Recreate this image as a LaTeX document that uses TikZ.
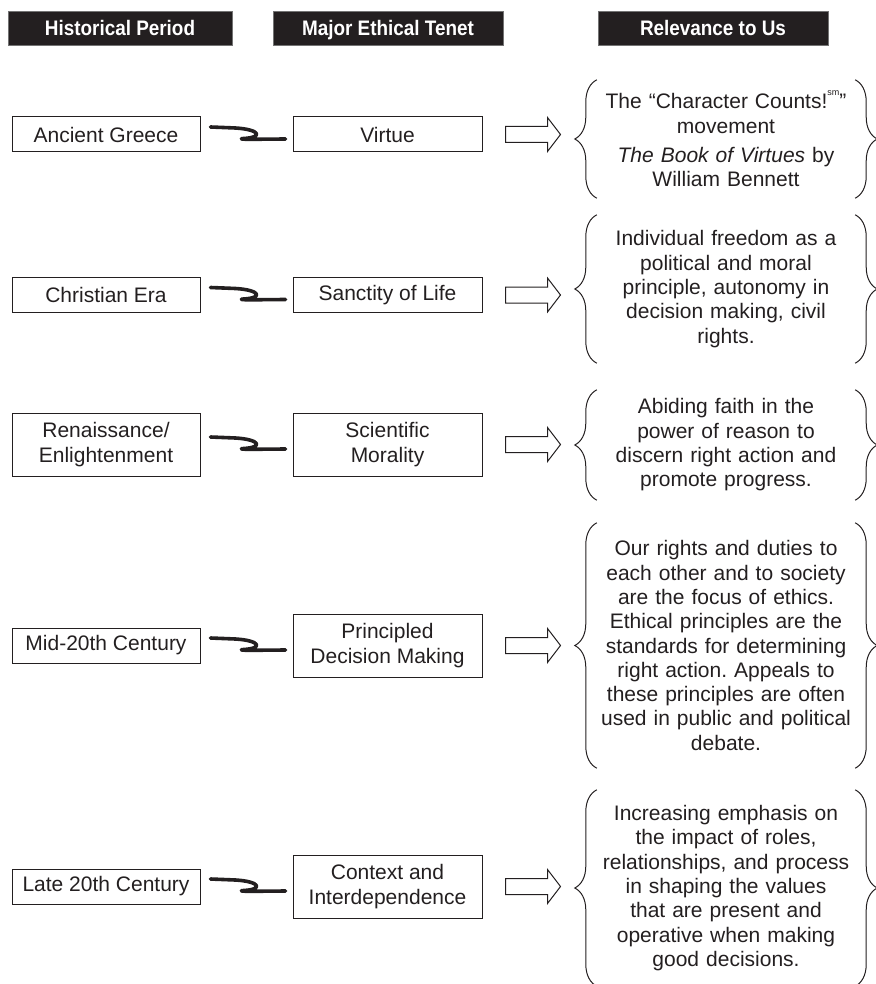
\documentclass[tikz,border=0pt]{standalone}
\usepackage{fontspec}
\setmainfont{Liberation Sans}
\usetikzlibrary{calc,decorations.pathreplacing}
\definecolor{ink}{HTML}{231F20}
\frenchspacing
\newcommand{\hdrtext}[1]{\scalebox{0.9}[1]{#1}}
\newcommand{\squigline}[2]{%
  \draw[squig] ($(#1.east)+(10,-7.5)$) -- ($(#1.east)+(35,-6.5)$)
    .. controls ($(#1.east)+(60,-5)$) and ($(#1.east)+(63,3)$) .. ($(#1.east)+(43,4)$)
    .. controls ($(#1.east)+(38.5,4.3)$) and ($(#1.east)+(41,4.8)$) .. ($(#1.east)+(50,4.8)$)
    -- ($(#2.west)+(-7,4.5)$);}
\newcommand{\hollowarrow}[1]{%
  \coordinate (#1a) at ($(#1.east)+(23,0)$);
  \draw[harrow] ($(#1a)+(0,-8)$) -- ++(42,0) -- ++(0,-9) -- ++(13,17) -- ++(-13,17) -- ++(0,-9) -- ++(-42,0) -- cycle;}
\newcommand{\bracepair}[1]{%
  \draw[brc] (#1.south west) -- (#1.north west);
  \draw[brc] (#1.north east) -- (#1.south east);}
\begin{document}
\begin{tikzpicture}[x=1pt,y=-1pt,
  hdr/.style={fill=ink, draw=black!55, line width=0.6pt, text=white,
    font=\fontsize{21}{24}\selectfont\bfseries, minimum height=34pt, inner sep=0pt,
    text height=15pt, text depth=0pt},
  leftbox/.style={draw=ink, line width=1pt, text=ink, font=\fontsize{21}{24.5}\selectfont,
    align=center, inner sep=0pt, minimum width=188pt},
  tenetbox/.style={draw=ink, line width=1pt, text=ink, font=\fontsize{21}{24.5}\selectfont,
    align=center, inner sep=0pt, minimum width=189pt},
  rel/.style={text=ink, font=\fontsize{21}{24.3}\selectfont, align=center,
    text width=258pt, inner sep=0pt},
  squig/.style={line width=3.6pt, ink, line cap=round, line join=round},
  harrow/.style={draw=ink, line width=1pt, fill=white, line join=miter},
  brc/.style={draw=ink, line width=1pt, decorate, decoration={brace, amplitude=22pt}}]
\useasboundingbox (0,0) rectangle (875,984);

% headers
\node[hdr, minimum width=224pt] (h1) at (120,28) {\hdrtext{Historical Period}};
\node[hdr, minimum width=230pt] (h2) at (388,28) {\hdrtext{Major Ethical Tenet}};
\node[hdr, minimum width=230pt] (h3) at (713,28) {\hdrtext{Relevance to Us}};

% row 1
\node[leftbox, minimum height=35pt] (p1) at (106,134.5) {Ancient Greece};
\node[tenetbox, minimum height=35pt] (t1) at (387.5,134.5) {Virtue};
\node[rel, minimum height=118pt] (r1) at (726,139) {The “Character Counts!\raisebox{0.62em}{\fontsize{9}{9}\selectfont sm}”\\ movement\\[5pt] \textit{The Book of Virtues} by\\ William Bennett};

% row 2
\node[leftbox, minimum height=35pt] (p2) at (106,295) {Christian Era};
\node[tenetbox, minimum height=35pt] (t2) at (387.5,295) {Sanctity of Life};
\node[rel, minimum height=148pt] (r2) at (726,289) {Individual freedom as a\\ political and moral\\ principle, autonomy in\\ decision making, civil\\ rights.};

% row 3
\node[leftbox, minimum height=63pt] (p3) at (106,444.5) {Renaissance/\\ Enlightenment};
\node[tenetbox, minimum height=63pt] (t3) at (387.5,444.5) {Scientific\\ Morality};
\node[rel, minimum height=110pt] (r3) at (726,445) {Abiding faith in the\\ power of reason to\\ discern right action and\\ promote progress.};

% row 4
\node[leftbox, minimum height=35pt] (p4) at (106,645.5) {Mid-20th Century};
\node[tenetbox, minimum height=63pt] (t4) at (387.5,645.5) {Principled\\ Decision Making};
\node[rel, minimum height=245pt] (r4) at (726,645.5) {Our rights and duties to\\ each other and to society\\ are the focus of ethics.\\ Ethical principles are the\\ standards for determining\\ right action. Appeals to\\ these principles are often\\ used in public and political\\ debate.};

% row 5
\node[leftbox, minimum height=35pt] (p5) at (106,886.5) {Late 20th Century};
\node[tenetbox, minimum height=63pt] (t5) at (387.5,886.5) {Context and\\ Interdependence};
\node[rel, minimum height=196pt] (r5) at (726,888) {Increasing emphasis on\\ the impact of roles,\\ relationships, and process\\ in shaping the values\\ that are present and\\ operative when making\\ good decisions.};

% connectors
\squigline{p1}{t1}
\squigline{p2}{t2}
\squigline{p3}{t3}
\squigline{p4}{t4}
\squigline{p5}{t5}
\hollowarrow{t1}
\hollowarrow{t2}
\hollowarrow{t3}
\hollowarrow{t4}
\hollowarrow{t5}
\bracepair{r1}
\bracepair{r2}
\bracepair{r3}
\bracepair{r4}
\bracepair{r5}
\end{tikzpicture}
\end{document}
